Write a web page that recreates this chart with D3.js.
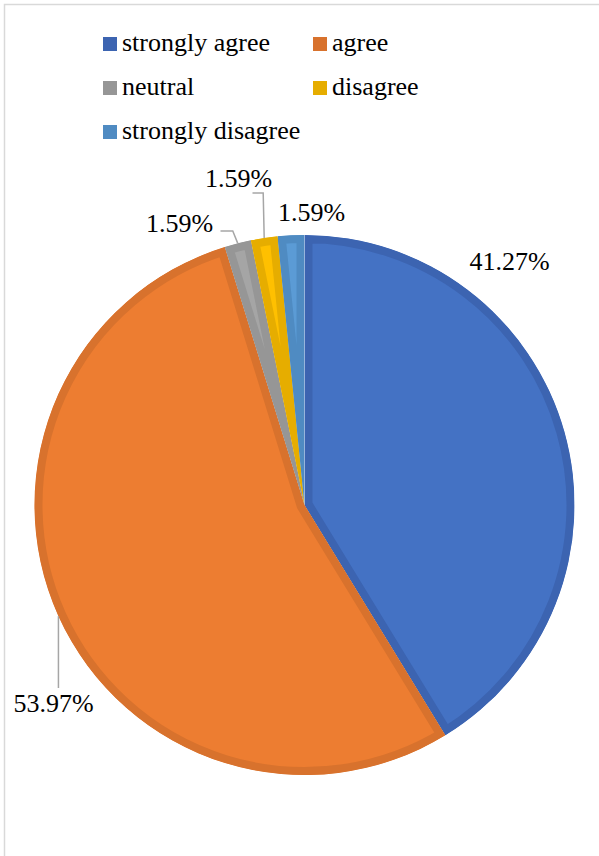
<!DOCTYPE html>
<html>
<head>
<meta charset="utf-8">
<script src="https://cdnjs.cloudflare.com/ajax/libs/d3/7.8.5/d3.min.js"></script>
<style>
    body { margin: 0; background: #fff; }
</style>
</head>
<body>
<div id="chart"></div>
<script>
var categories = ["strongly agree", "agree", "neutral", "disagree", "strongly disagree"];
var values = [41.27, 53.97, 1.59, 1.59, 1.59];
var labels = ["41.27%", "53.97%", "1.59%", "1.59%", "1.59%"];

var fills = ["#4472c4", "#ed7d31", "#a5a5a5", "#ffc000", "#5b9bd5"];
var edges = ["#3c64b1", "#d8722d", "#969696", "#e6ad00", "#4f8bc2"];

// label placement relative to the pie centre (Excel "best fit" look)
var labelOffsets = [[205, -235], [-251, 207], [-125, -273], [-66, -318], [7, -284]];

var font = "'Liberation Serif', 'Times New Roman', serif";
var width = 599, height = 856;
var cx = 304.5, cy = 505, r = 270;

var svg = d3.select("#chart")
        .append("svg")
        .attr("width", width)
        .attr("height", height)
        .style("font-family", font);

// chart frame (only top and left visible)
svg.append("path")
        .attr("d", "M4.5," + height + "V4.5H" + width)
        .attr("fill", "none")
        .attr("stroke", "#d9d9d9")
        .attr("stroke-width", 1.5);

// legend
var legendCols = [103, 313], legendRows = [51, 95, 139];
var legend = svg.append("g");
categories.forEach(function(c, i) {
    var x = legendCols[i % 2], y = legendRows[Math.floor(i / 2)];
    legend.append("rect")
            .attr("x", x).attr("y", y - 14)
            .attr("width", 14).attr("height", 14)
            .attr("fill", edges[i]);
    legend.append("text")
            .attr("x", x + 19).attr("y", y)
            .attr("font-size", 26)
            .text(c);
});

var pie = d3.pie().sort(null).value(function(d) { return d; });
var arcs = pie(values);
var arc = d3.arc().innerRadius(0).outerRadius(r);
var edgeArc = d3.arc().innerRadius(r).outerRadius(r);

var g = svg.append("g").attr("transform", "translate(" + cx + "," + cy + ")");
var defs = svg.append("defs");

arcs.forEach(function(a, i) {
    defs.append("clipPath").attr("id", "clip" + i)
            .append("path").attr("d", arc(a));
    g.append("path")
            .attr("d", arc(a))
            .attr("fill", fills[i])
            .attr("stroke", edges[i])
            .attr("stroke-width", 16)
            .attr("clip-path", "url(#clip" + i + ")");
});

// leader lines + labels
arcs.forEach(function(a, i) {
    var p = edgeArc.centroid(a);
    var o = labelOffsets[i];
    var pts = null;
    if (i === 1) pts = [p, [p[0], o[1] - 24]];
    if (i === 2) pts = [p, [p[0] - 5, o[1] - 1], [o[0] + 41, o[1] - 1]];
    if (i === 3) pts = [p, [p[0] - 1, o[1] + 6], [o[0] + 14, o[1] + 6]];
    if (pts) {
        g.append("path")
                .attr("d", d3.line()(pts))
                .attr("fill", "none")
                .attr("stroke", "#a6a6a6")
                .attr("stroke-width", 1.5);
    }
    g.append("text")
            .attr("x", o[0]).attr("y", o[1])
            .attr("text-anchor", "middle")
            .attr("font-size", 26)
            .text(labels[i]);
});
</script>
</body>
</html>
